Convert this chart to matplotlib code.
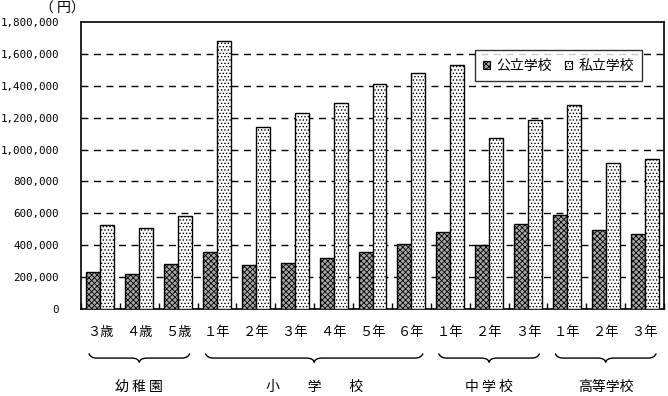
import matplotlib
matplotlib.use("Agg")
import matplotlib.pyplot as plt
import matplotlib.transforms as mtransforms
from matplotlib.path import Path
from matplotlib.patches import PathPatch, Patch
import numpy as np

plt.rcParams['font.family'] = ['Noto Sans CJK JP', 'DejaVu Sans']
plt.rcParams['hatch.linewidth'] = 0.6

categories = ['３歳', '４歳', '５歳',
              '１年', '２年', '３年', '４年', '５年', '６年',
              '１年', '２年', '３年',
              '１年', '２年', '３年']
public = [230000, 218000, 280000,
          356000, 274000, 288000, 318000, 356000, 406000,
          481000, 400000, 531000,
          590000, 494000, 468000]
private = [527000, 506000, 581000,
           1679000, 1141000, 1227000, 1290000, 1409000, 1478000,
           1528000, 1071000, 1183000,
           1278000, 914000, 939000]
series_names = ['公立学校', '私立学校']
groups = ['幼 稚 園', '小　　学　　校', '中 学 校', '高等学校']
group_ranges = [(0, 2), (3, 8), (9, 11), (12, 14)]
yticks = [0, 200000, 400000, 600000, 800000, 1000000, 1200000, 1400000, 1600000, 1800000]

fig = plt.figure(figsize=(6.68, 3.96), dpi=100)
ax = fig.add_axes([81/668, 1 - 309/396, 583/668, 287/396])

x = np.arange(len(categories))
w = 0.36
pub_style = dict(facecolor='#a8a8a8', edgecolor='black', hatch='xxxxxx')
pri_style = dict(facecolor='white', edgecolor='black', hatch='.....')
ax.bar(x - w/2, public, w, linewidth=1, zorder=3, **pub_style)
ax.bar(x + w/2, private, w, linewidth=1, zorder=3, **pri_style)

ax.set_xlim(-0.5, len(categories) - 0.5)
ax.set_ylim(0, 1800000)
ax.set_yticks(yticks)
ax.set_yticklabels(['0' if v == 0 else f'{v:,}' for v in yticks], family='DejaVu Sans Mono', fontsize=7.8)
ax.tick_params(axis='y', length=0, pad=16)
ax.set_xticks(x)
ax.set_xticklabels(categories, fontsize=9.5)
ax.tick_params(axis='x', which='major', length=0, pad=12)
ax.set_xticks(np.arange(-0.5, len(categories)), minor=True)
ax.tick_params(axis='x', which='minor', direction='in', length=4, width=1)
for v in yticks[1:-1]:
    ax.axhline(v, color='black', linestyle=(0, (5, 4)), linewidth=1, zorder=1)
for s in ax.spines.values():
    s.set_linewidth(1.2)

fig.text(40/668, 1 - 9/396, '（ 円）', fontsize=10, ha='left', va='center')

trans = mtransforms.blended_transform_factory(ax.transData, ax.transAxes)
y_end, y_line, y_tip = -0.155, -0.171, -0.186
for (a, b), g in zip(group_ranges, groups):
    x0, x1 = a - 0.3, b + 0.3
    m = (a + b) / 2
    verts = [(x0, y_end), (x0 + 0.05, y_line), (x0 + 0.2, y_line),
             (m - 0.2, y_line), (m - 0.02, y_line), (m, y_tip),
             (m + 0.02, y_line), (m + 0.2, y_line),
             (x1 - 0.2, y_line), (x1 - 0.05, y_line), (x1, y_end)]
    codes = [Path.MOVETO, Path.CURVE3, Path.CURVE3,
             Path.LINETO, Path.CURVE3, Path.CURVE3,
             Path.CURVE3, Path.CURVE3,
             Path.LINETO, Path.CURVE3, Path.CURVE3]
    ax.add_patch(PathPatch(Path(verts, codes), transform=trans, fill=False,
                           edgecolor='black', linewidth=1, clip_on=False))
    ax.text(m, -0.27, g, transform=trans, ha='center', va='center', fontsize=10)

handles = [Patch(linewidth=0.8, **pub_style), Patch(linewidth=0.8, **pri_style)]
leg = ax.legend(handles, series_names, loc='upper right', bbox_to_anchor=(0.975, 0.925),
                ncol=2, frameon=True, fancybox=False, edgecolor='black', fontsize=10,
                handlelength=0.5, handleheight=0.5, handletextpad=0.5, columnspacing=0.9,
                borderpad=0.6)
leg.get_frame().set_linewidth(1)
leg.set_zorder(5)

fig.savefig('out.png', dpi=100)
